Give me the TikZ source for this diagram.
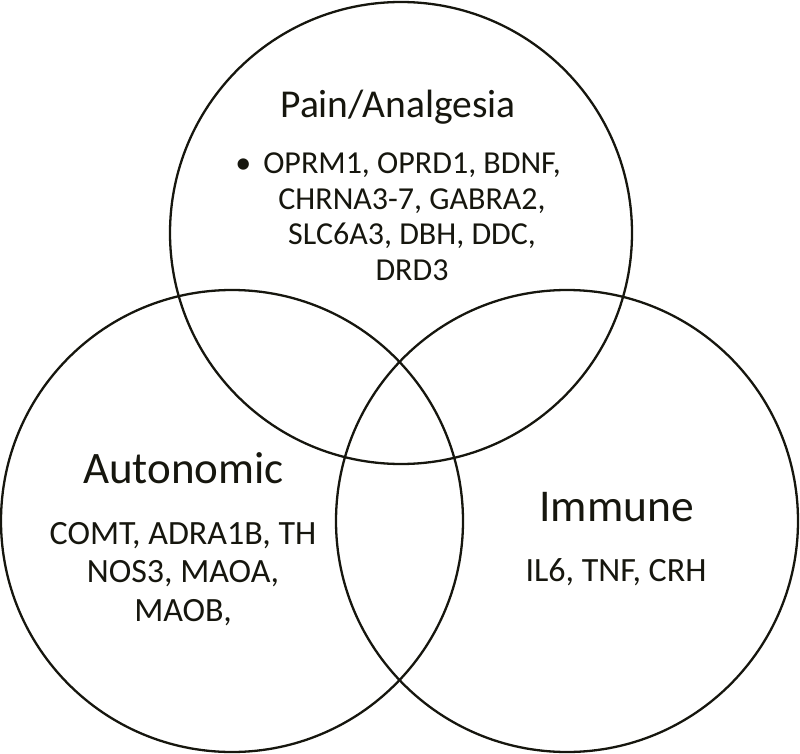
\documentclass[tikz,border=0pt]{standalone}
\usepackage{fontspec}
\setmainfont{Carlito}
\definecolor{inkdark}{RGB}{22,22,14}
\begin{document}
\begin{tikzpicture}[x=1pt,y=-1pt,
  setcircle/.style={draw=inkdark, line width=2.3pt, circle, minimum size=462pt, inner sep=0pt},
  titletext/.style={anchor=base, inner sep=0pt, text=inkdark},
  genetext/.style={anchor=base, inner sep=0pt, align=center, text=inkdark}]
\useasboundingbox (0,0) rectangle (800,754);
\node[setcircle] (pain) at (401,233) {};
\node[setcircle] (auto) at (232,521) {};
\node[setcircle] (immu) at (567,521) {};
\node[titletext, font=\fontsize{39.5}{46}\selectfont] (paint) at (398,118) {Pain/Analgesia};
\node[genetext, font=\fontsize{32}{35.5}\selectfont] (paing) at (412,280)
  {\llap{\textbullet\hspace{12pt}}OPRM1, OPRD1, BDNF,\\ CHRNA3-7, GABRA2,\\ SLC6A3, DBH, DDC,\\ DRD3};
\node[titletext, font=\fontsize{45}{52}\selectfont] (autot) at (183.5,483) {Autonomic};
\node[genetext, font=\fontsize{34}{38.5}\selectfont] (autog) at (183,621)
  {COMT, ADRA1B, TH\\ NOS3, MAOA,\\ MAOB,};
\node[titletext, font=\fontsize{45.5}{52}\selectfont] (immut) at (616.5,521) {Immune};
\node[genetext, font=\fontsize{34}{38.5}\selectfont] (immug) at (616,581) {IL6, TNF, CRH};
\end{tikzpicture}
\end{document}
